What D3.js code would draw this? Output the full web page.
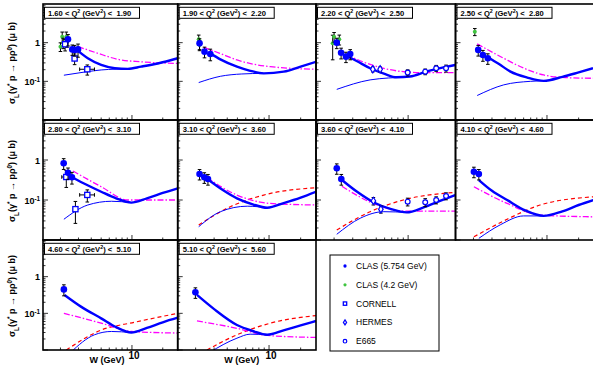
<!DOCTYPE html>
<html>
<head>
<meta charset="utf-8">
<script src="https://cdn.jsdelivr.net/npm/d3@7"></script>
<style>
  body { margin: 0; background: #fff; }
  svg { display: block; font-family: "Liberation Sans", Arial, sans-serif; }
</style>
</head>
<body>
<svg id="chart" width="593" height="372"></svg>
<script>
// Q^2 bin edges, panel i covers qBins[i] < Q2 < qBins[i+1]
const qBins = ["1.60", "1.90", "2.20", "2.50", "2.80", "3.10", "3.60", "4.10", "4.60", "5.10", "5.60"];

// [panel, W, sigma, err]
const clas5754 = [
  [0, 2.37, 1.22, 0.4], [0, 2.61, 0.67, 0.2], [0, 2.75, 0.65, 0.2], [0, 2.97, 0.67, 0.25],
  [1, 2.18, 0.96, 0.3], [1, 2.43, 0.585, 0.18], [1, 2.76, 0.51, 0.17],
  [2, 2.12, 1.0, 0.3], [2, 2.33, 0.55, 0.17], [2, 2.59, 0.435, 0.13], [2, 2.84, 0.51, 0.15],
  [3, 2.22, 0.65, 0.2], [3, 2.46, 0.48, 0.15], [3, 2.74, 0.395, 0.12],
  [4, 2.15, 0.83, 0.25], [4, 2.37, 0.48, 0.15], [4, 2.59, 0.37, 0.12],
  [5, 2.18, 0.447, 0.13], [5, 2.42, 0.37, 0.11], [5, 2.62, 0.335, 0.1],
  [6, 2.12, 0.62, 0.18], [6, 2.34, 0.335, 0.1],
  [7, 2.02, 0.51, 0.15], [7, 2.25, 0.447, 0.13],
  [8, 2.16, 0.45, 0.15],
  [9, 1.99, 0.376, 0.12]
];
const clas42 = [
  [0, 2.0, 0.79, 0.2], [0, 2.08, 1.43, 0.45], [0, 2.13, 1.0, 0.3], [0, 2.28, 1.43, 0.45], [0, 2.32, 1.06, 0.3],
  [1, 2.14, 1.22, 0.35], [1, 2.18, 0.87, 0.25],
  [2, 1.94, 0.96, 0.6], [2, 2.0, 1.43, 0.4], [2, 2.24, 1.22, 0.35],
  [3, 2.06, 1.92, 0.4]
];
// [panel, W, sigma, err, Wlo, Whi]
const cornell = [
  [0, 2.22, 0.91, 0.3, 2.22, 2.22], [0, 2.75, 0.39, 0.12, 2.75, 2.75], [0, 3.66, 0.205, 0.06, 3.08, 4.3],
  [4, 2.28, 0.376, 0.17, 2.06, 2.5], [4, 3.66, 0.134, 0.045, 3.08, 4.3], [4, 2.8, 0.059, 0.033, 2.8, 2.8]
];
const hermes = [
  [2, 4.64, 0.205, 0.03], [2, 5.44, 0.205, 0.03],
  [6, 4.7, 0.095, 0.02], [6, 5.53, 0.059, 0.012]
];
const e665 = [
  [2, 9.9, 0.168, 0.03], [2, 14.5, 0.178, 0.03], [2, 18.4, 0.218, 0.04], [2, 22.8, 0.218, 0.045],
  [6, 9.9, 0.091, 0.02], [6, 14.5, 0.088, 0.02], [6, 18.4, 0.1, 0.02], [6, 22.8, 0.126, 0.025]
];

// model curves, one list of [W, sigma] per panel
const totalCurve = [
  [[2.75, 0.72], [3.7, 0.395], [5.0, 0.265], [6.8, 0.218], [9.1, 0.21], [12.3, 0.24], [17.9, 0.29], [28, 0.395]],
  [[2.76, 0.53], [3.44, 0.37], [4.95, 0.24], [6.5, 0.19], [8.9, 0.161], [13.8, 0.178], [20, 0.24], [28, 0.32]],
  [[2.54, 0.48], [3.3, 0.33], [4.38, 0.218], [6.0, 0.155], [7.8, 0.127], [10.4, 0.133], [15, 0.18], [23.2, 0.24], [27.8, 0.265]],
  [[2.74, 0.42], [3.5, 0.28], [4.5, 0.178], [6.5, 0.125], [9.3, 0.103], [14, 0.13], [20, 0.17], [27.4, 0.218]],
  [[2.65, 0.36], [3.6, 0.24], [5.0, 0.161], [7, 0.11], [9.85, 0.086], [14, 0.11], [20, 0.15], [28, 0.196]],
  [[2.66, 0.316], [3.6, 0.18], [4.95, 0.11], [7, 0.078], [9.6, 0.064], [14, 0.085], [20, 0.115], [28, 0.161]],
  [[2.37, 0.316], [3.3, 0.16], [4.7, 0.088], [6.8, 0.06], [9.7, 0.049], [14, 0.065], [20, 0.095], [27.8, 0.133]],
  [[2.25, 0.316], [3.0, 0.17], [4.18, 0.1], [6.2, 0.055], [9.3, 0.04], [14, 0.052], [20, 0.075], [27.6, 0.1]],
  [[2.19, 0.317], [3.2, 0.15], [5, 0.073], [7, 0.042], [9.85, 0.03], [14, 0.04], [20, 0.057], [28, 0.076]],
  [[2.06, 0.317], [3.0, 0.13], [4.95, 0.048], [7, 0.033], [9.6, 0.026], [14, 0.035], [20, 0.047], [28, 0.062]]
];
const thinCurve = [
  [[2.16, 0.144], [3.5, 0.175], [5, 0.197], [7, 0.207], [9.1, 0.21]],
  [[2.14, 0.093], [3.44, 0.135], [5.5, 0.155], [8.9, 0.161]],
  [[2.12, 0.062], [4.38, 0.109], [6.5, 0.122], [9.0, 0.127]],
  [[2.17, 0.043], [3.88, 0.081], [6.95, 0.1], [9.3, 0.103]],
  [[2.16, 0.033], [3.7, 0.075], [6.3, 0.093], [9.85, 0.086]],
  [[2.14, 0.0215], [3.44, 0.051], [6.2, 0.07], [9.6, 0.064]],
  [[2.12, 0.0139], [3.53, 0.035], [5.9, 0.051], [9.7, 0.049]],
  [[2.25, 0.011], [3.6, 0.024], [6.0, 0.04], [9.3, 0.04]],
  [[2.5, 0.0085], [4.3, 0.026], [6.3, 0.032], [9.85, 0.03]],
  [[2.7, 0.0085], [4.95, 0.021], [6.6, 0.027], [9.6, 0.026]]
];
const dashDotCurve = [
  [[2.97, 0.79], [4.65, 0.53], [7.3, 0.37], [12.3, 0.32], [28, 0.29]],
  [[2.38, 0.76], [3.4, 0.53], [4.95, 0.357], [7, 0.28], [10.3, 0.24], [28, 0.205]],
  [[2.63, 0.48], [5.1, 0.24], [9.0, 0.178], [14, 0.168], [27.8, 0.168]],
  [[2.17, 0.93], [3.88, 0.395], [6, 0.22], [9.3, 0.146], [15, 0.125], [27.4, 0.12]],
  [[2.65, 0.53], [5.0, 0.215], [9.1, 0.1], [14, 0.1], [28, 0.1]],
  [[2.57, 0.36], [4.95, 0.133], [10.3, 0.082], [28, 0.075]],
  [[2.37, 0.22], [5.1, 0.075], [9.0, 0.053], [27.8, 0.053]],
  [[2.02, 0.215], [4.18, 0.082], [8.6, 0.042], [27.6, 0.038]],
  [[2.16, 0.1], [5, 0.054], [9.85, 0.032], [28, 0.029]],
  [[2.06, 0.062], [4.95, 0.039], [9.6, 0.025], [28, 0.022]]
];
const dashedCurve = [
  [], [], [], [], [],
  [[2.14, 0.0237], [4.28, 0.068], [8.9, 0.133], [28, 0.203]],
  [[2.12, 0.0178], [4.38, 0.051], [9.0, 0.1], [27.8, 0.155]],
  [[2.02, 0.012], [4.18, 0.033], [8.6, 0.075], [27.6, 0.12]],
  [[2.28, 0.01], [5, 0.035], [10.6, 0.057], [28, 0.1]],
  [[2.56, 0.01], [4.95, 0.026], [10.3, 0.054], [28, 0.087]]
];

const legendLabels = ["CLAS (5.754 GeV)", "CLAS (4.2 GeV)", "CORNELL", "HERMES", "E665"];

const blue = "#0000ff";
const green = "#3fc43f";
const colEdges = [43, 177.7, 316, 455.5, 594];
const rowEdges = [4, 120, 240, 350];
const xDomain = [1.35, 28];
const yDomain = [0.01, 10];

const svg = d3.select("#chart");
const defs = svg.append("defs");

function addSup(text, s, shift) {
  text.append("tspan").attr("baseline-shift", shift).attr("font-size", "70%").text(s);
}

// size scales the marker, 1 = as in the panels
function drawMarker(g, kind, cx, cy, size = 1) {
  if (kind === "clas") {
    g.append("circle").attr("cx", cx).attr("cy", cy).attr("r", 3.3 * size).attr("fill", blue);
  } else if (kind === "green") {
    g.append("circle").attr("cx", cx).attr("cy", cy).attr("r", 2 * size).attr("fill", green);
  } else if (kind === "square") {
    const h = 2.6 * size;
    g.append("rect").attr("x", cx - h).attr("y", cy - h).attr("width", 2 * h).attr("height", 2 * h)
      .attr("fill", "#fff").attr("stroke", blue).attr("stroke-width", 1.3);
  } else if (kind === "diamond") {
    const a = 3.6 * size, b = 2.3 * size;
    g.append("path").attr("d", `M${cx},${cy - a}L${cx + b},${cy}L${cx},${cy + a}L${cx - b},${cy}Z`)
      .attr("fill", "#fff").attr("stroke", blue).attr("stroke-width", 1.2);
  } else {
    g.append("circle").attr("cx", cx).attr("cy", cy).attr("r", 2.4 * size)
      .attr("fill", "#fff").attr("stroke", blue).attr("stroke-width", 1.2);
  }
}

function drawPoints(g, x, y, rows, kind, panel) {
  rows.filter((d) => d[0] === panel).forEach((d) => {
    const cx = x(d[1]);
    const cy = y(d[2]);
    const lo = y(Math.max(d[2] - d[3], yDomain[0]));
    const hi = y(d[2] + d[3]);
    g.append("line").attr("x1", cx).attr("x2", cx).attr("y1", lo).attr("y2", hi)
      .attr("stroke", "#000").attr("stroke-width", 1);
    [lo, hi].forEach((yy) => {
      g.append("line").attr("x1", cx - 1.8).attr("x2", cx + 1.8).attr("y1", yy).attr("y2", yy)
        .attr("stroke", "#000").attr("stroke-width", 1);
    });
    if (d.length > 4 && d[5] > d[4]) {
      g.append("line").attr("x1", x(d[4])).attr("x2", x(d[5])).attr("y1", cy).attr("y2", cy)
        .attr("stroke", "#000").attr("stroke-width", 1);
      [d[4], d[5]].forEach((w) => {
        g.append("line").attr("x1", x(w)).attr("x2", x(w)).attr("y1", cy - 1.8).attr("y2", cy + 1.8)
          .attr("stroke", "#000").attr("stroke-width", 1);
      });
    }
    drawMarker(g, kind, cx, cy);
  });
}

for (let i = 0; i < 10; i++) {
  const r = Math.floor(i / 4);
  const c = i % 4;
  const x0 = colEdges[c], x1 = colEdges[c + 1];
  const y0 = rowEdges[r], y1 = rowEdges[r + 1];
  const x = d3.scaleLog().domain(xDomain).range([x0, x1]);
  const y = d3.scaleLog().domain(yDomain).range([y1, y0]);

  const g = svg.append("g").attr("class", "panel");
  defs.append("clipPath").attr("id", "clip" + i)
    .append("rect").attr("x", x0).attr("y", y0).attr("width", x1 - x0).attr("height", y1 - y0);
  const inner = g.append("g").attr("clip-path", `url(#clip${i})`);

  const line = d3.line().x((d) => x(d[0])).y((d) => y(d[1])).curve(d3.curveMonotoneX);

  if (dashedCurve[i].length) {
    inner.append("path").attr("d", line(dashedCurve[i])).attr("fill", "none")
      .attr("stroke", "#ff0000").attr("stroke-width", 1.2).attr("stroke-dasharray", "4,3");
  }
  inner.append("path").attr("d", line(dashDotCurve[i])).attr("fill", "none")
    .attr("stroke", "#ff00ff").attr("stroke-width", 1.3).attr("stroke-dasharray", "6,2,1.5,2");
  inner.append("path").attr("d", line(thinCurve[i])).attr("fill", "none")
    .attr("stroke", blue).attr("stroke-width", 1);
  inner.append("path").attr("d", line(totalCurve[i])).attr("fill", "none")
    .attr("stroke", blue).attr("stroke-width", 2.4);

  drawPoints(inner, x, y, clas42, "green", i);
  drawPoints(inner, x, y, cornell, "square", i);
  drawPoints(inner, x, y, hermes, "diamond", i);
  drawPoints(inner, x, y, e665, "open", i);
  drawPoints(inner, x, y, clas5754, "clas", i);

  // y ticks on the left edge
  [0.01, 0.1, 1].forEach((dec) => {
    for (let k = 1; k <= 9; k++) {
      const v = dec * k;
      g.append("line").attr("x1", x0).attr("x2", x0 + (k === 1 ? 5 : 2.5))
        .attr("y1", y(v)).attr("y2", y(v)).attr("stroke", "#000").attr("stroke-width", 0.8);
    }
  });
  // x ticks on the bottom edge
  [2, 3, 4, 5, 6, 7, 8, 9, 10, 20].forEach((v) => {
    g.append("line").attr("x1", x(v)).attr("x2", x(v)).attr("y1", y1).attr("y2", y1 - (v === 10 ? 5 : 2.5))
      .attr("stroke", "#000").attr("stroke-width", 0.8);
  });

  g.append("rect").attr("x", x0).attr("y", y0).attr("width", x1 - x0).attr("height", y1 - y0)
    .attr("fill", "none").attr("stroke", "#000").attr("stroke-width", 1.6);

  // Q2 bin label
  g.append("rect").attr("x", x0 + 1.5).attr("y", y0 + 3.3).attr("width", 95).attr("height", 11)
    .attr("fill", "#fff").attr("stroke", "#000").attr("stroke-width", 1);
  const lbl = g.append("text").attr("x", x0 + 5).attr("y", y0 + 11.9)
    .attr("font-size", 7.6).attr("font-weight", "bold").attr("xml:space", "preserve");
  lbl.append("tspan").text(qBins[i] + " < Q");
  addSup(lbl, "2", "super");
  lbl.append("tspan").text(" (GeV");
  addSup(lbl, "2", "super");
  lbl.append("tspan").text(") <  " + qBins[i + 1]);

  if (c === 0) {
    g.append("text").attr("x", x0 - 3).attr("y", y(1) + 3.5).attr("text-anchor", "end")
      .attr("font-size", 9).attr("font-weight", "bold").text("1");
    const t = g.append("text").attr("x", x0 - 3).attr("y", y(0.1) + 3.5).attr("text-anchor", "end")
      .attr("font-size", 9).attr("font-weight", "bold");
    t.append("tspan").text("10");
    addSup(t, "-1", "super");

    const yc = (y0 + y1) / 2 + 1;
    const title = g.append("text").attr("transform", `translate(15,${yc}) rotate(-90)`)
      .attr("text-anchor", "middle").attr("font-size", 9).attr("font-weight", "bold");
    title.append("tspan").text("σ");
    title.append("tspan").attr("baseline-shift", "sub").attr("font-size", "70%").text("L");
    title.append("tspan").text("(γ");
    addSup(title, "*", "super");
    title.append("tspan").text(" p → pρ");
    addSup(title, "0", "super");
    title.append("tspan").text(") (μ b)");
  }
  if (r === 2) {
    g.append("text").attr("x", x(10) + 2).attr("y", y1 + 9).attr("text-anchor", "middle")
      .attr("font-size", 10).attr("font-weight", "bold").text("10");
    g.append("text").attr("x", x0 + 64).attr("y", y1 + 13).attr("text-anchor", "middle")
      .attr("font-size", 9).attr("font-weight", "bold").text("W (GeV)");
  }
}

// legend
const legend = svg.append("g").attr("class", "legend");
legend.append("rect").attr("x", 330).attr("y", 255).attr("width", 109).attr("height", 96)
  .attr("fill", "#fff").attr("stroke", "#000").attr("stroke-width", 1);
const legendKinds = ["clas", "green", "square", "diamond", "open"];
const legendSizes = [0.5, 0.8, 0.65, 0.7, 0.75];
legendLabels.forEach((name, k) => {
  const yy = 266 + k * 18.8;
  drawMarker(legend, legendKinds[k], 345, yy, legendSizes[k]);
  legend.append("text").attr("x", 356).attr("y", yy + 3).attr("font-size", 8.5).text(name);
});
</script>
</body>
</html>
